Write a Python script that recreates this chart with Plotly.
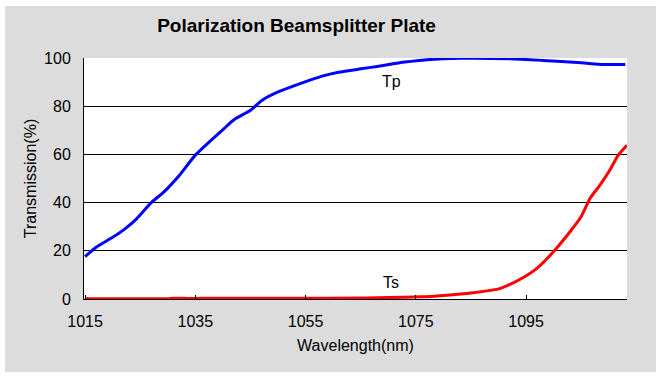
import plotly.graph_objects as go

# ---- data ----
tp_wavelength = [1015, 1017, 1020, 1022, 1024, 1027, 1029, 1030, 1032, 1035, 1040,
                 1042, 1045, 1047, 1050, 1054, 1058, 1061, 1065, 1068, 1073, 1077,
                 1083, 1092, 1098, 1105, 1109, 1113]
tp_values = [17.6, 21.5, 25.6, 28.7, 32.5, 40.0, 43.8, 46.0, 51.0, 59.7, 70.3,
             74.4, 78.3, 82.3, 85.9, 89.4, 92.5, 94.1, 95.5, 96.5, 98.3, 99.3,
             99.9, 99.7, 99.0, 98.0, 97.3, 97.3]

ts_wavelength = [1015, 1030, 1031, 1033, 1034, 1036, 1050, 1066, 1070, 1076, 1080,
                 1085, 1090, 1092, 1094.5, 1097, 1100, 1103, 1105, 1106.6, 1108.4,
                 1110.2, 1111.7, 1113.3]
ts_values = [0.1, 0.1, 0.3, 0.3, 0.2, 0.3, 0.3, 0.4, 0.6, 0.9, 1.5,
             2.5, 4.2, 6.0, 8.9, 12.8, 19.7, 28.0, 34.2, 41.8, 47.3,
             53.5, 59.7, 63.8]

x_ticks = [1015, 1035, 1055, 1075, 1095]
y_ticks = [0, 20, 40, 60, 80, 100]

FONT = "Liberation Sans, Arial, sans-serif"

fig = go.Figure()
fig.add_trace(go.Scatter(x=tp_wavelength, y=tp_values, mode="lines", name="Tp",
                         line=dict(color="#0000ff", width=3, shape="spline", smoothing=0.6)))
fig.add_trace(go.Scatter(x=ts_wavelength, y=ts_values, mode="lines", name="Ts",
                         line=dict(color="#ff0000", width=3, shape="spline", smoothing=0.4)))

L, R, T, B = 84, 36, 58, 79
W, H = 663, 378
pw, ph = W - L - R, H - T - B

def px_x(p):
    return (p - L) / pw

def px_y(p):
    return (H - B - p) / ph

fig.update_layout(
    width=W, height=H,
    margin=dict(l=L, r=R, t=T, b=B),
    paper_bgcolor="white",
    plot_bgcolor="rgba(0,0,0,0)",
    showlegend=False,
    font=dict(family=FONT, color="black", size=16),
    title=dict(text="<b>Polarization Beamsplitter Plate</b>",
               font=dict(family=FONT, size=19, color="black"),
               x=296.5 / W, xref="container", xanchor="center",
               y=1 - 25 / H, yref="container", yanchor="middle"),
    shapes=[
        dict(type="rect", xref="paper", yref="paper", layer="below",
             x0=px_x(5), x1=px_x(656), y0=px_y(372), y1=px_y(6),
             fillcolor="#dcdcdc", line=dict(width=0)),
        dict(type="rect", xref="paper", yref="paper", layer="below",
             x0=0, x1=1, y0=0, y1=1,
             fillcolor="white", line=dict(width=0)),
    ],
    annotations=[
        dict(x=1070.5, y=90.3, xref="x", yref="y", text="Tp", showarrow=False,
             font=dict(family=FONT, size=16, color="black")),
        dict(x=1070.5, y=6.7, xref="x", yref="y", text="Ts", showarrow=False,
             font=dict(family=FONT, size=16, color="black")),
    ],
)

fig.update_xaxes(
    range=[1014.8, 1113.3],
    tickvals=x_ticks, ticktext=[str(v) for v in x_ticks],
    ticks="inside", ticklen=4, tickcolor="black", tickwidth=1,
    showline=True, linecolor="black", linewidth=1,
    showgrid=False, zeroline=False,
    tickfont=dict(family=FONT, size=16, color="black"),
    ticklabelstandoff=8,
    title=dict(text="Wavelength(nm)", standoff=10,
               font=dict(family=FONT, size=16, color="black")),
)
fig.update_yaxes(
    range=[0, 100],
    tickvals=y_ticks,
    ticks="", showline=True, linecolor="black", linewidth=1,
    showgrid=True, gridcolor="black", gridwidth=1,
    zeroline=False,
    tickfont=dict(family=FONT, size=16, color="black"),
    ticklabelstandoff=9,
    title=dict(text="Transmission(%)", standoff=3,
               font=dict(family=FONT, size=16, color="black")),
)

fig.write_html("out.html",
               config={"displayModeBar": False},
               post_script="document.body.style.margin='0';document.body.style.overflow='hidden';")
